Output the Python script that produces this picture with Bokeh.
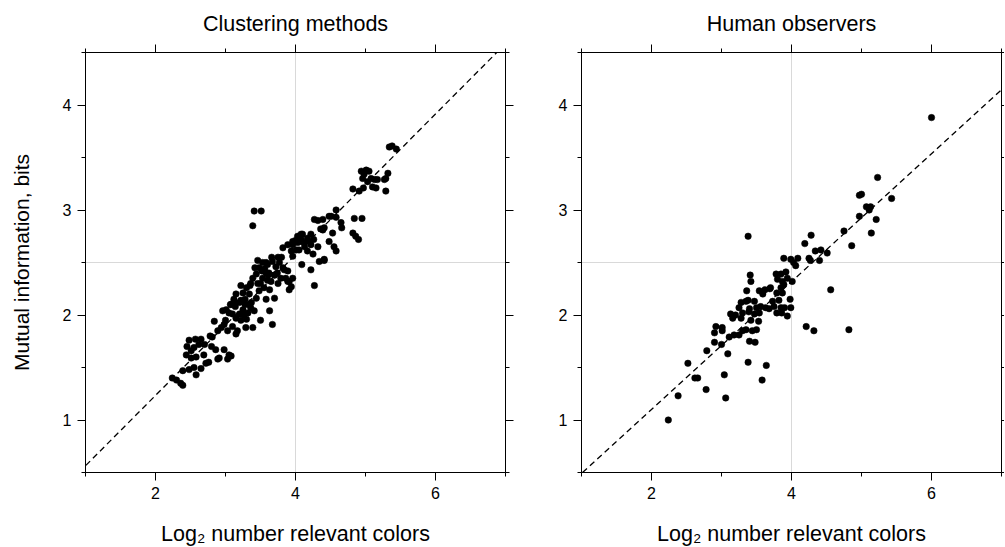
from bokeh.plotting import figure
from bokeh.models import Range1d, FixedTicker, LinearAxis, Span, Slope
from bokeh.layouts import row
from bokeh.embed import file_html
from bokeh.resources import INLINE

# ---------------- data ----------------
panel_titles = ["Clustering methods", "Human observers"]
x_label = "Log\u2082 number relevant colors"
y_label = "Mutual information, bits"
x_major_ticks = [2, 4, 6]
x_minor_ticks = [1, 3, 5, 7]
y_major_ticks = [1, 2, 3, 4]
y_minor_ticks = [0.5, 1.5, 2.5, 3.5, 4.5]
ref_x = 4
ref_y = 2.5

clustering_x = [
    2.24, 2.30, 2.39, 2.36,
    2.39, 2.48, 2.55, 2.58, 2.65, 2.72, 2.76, 2.89, 2.91, 3.03, 3.08, 3.05,
    2.51, 2.58, 2.51, 2.55, 2.48, 2.57, 2.65, 2.81, 2.86, 2.98, 2.89, 2.94,
    2.96, 3.01, 3.05, 3.10, 3.15, 3.20, 3.25, 3.32, 3.36, 3.41,
    2.98, 3.03, 3.10, 3.15, 3.17, 3.29, 3.39,
    3.63, 3.67,
    3.15, 3.25, 3.34, 3.44, 3.48, 3.55, 3.63, 3.65, 3.53, 3.44, 3.39,
    3.46, 3.53, 3.60, 3.67, 3.72, 3.77, 3.82, 3.89, 3.86, 3.91, 3.94, 3.91,
    3.82, 3.89, 3.96, 4.03, 4.08, 4.01, 3.96, 4.09,
    4.10, 4.17, 4.22, 4.08, 3.96, 4.03, 4.13, 4.22, 4.32, 3.94, 4.05, 4.17, 4.25,
    4.34, 4.41, 4.22, 4.27,
    3.84, 3.79, 3.89, 3.96,
    3.41, 3.51, 3.39,
    4.27, 4.32, 4.39, 4.48, 4.39,
    4.58, 4.51, 4.58, 4.65, 4.66, 4.53,
    4.84, 4.95, 4.82, 4.86, 4.90,
    4.48, 4.55, 4.58, 4.41,
    4.36, 4.41,
    4.94, 5.01, 5.05, 4.98, 4.96, 5.08, 5.03, 5.13, 5.17, 5.27, 5.32, 5.29, 5.10, 5.15, 4.82, 4.91, 5.29, 4.97,
    5.34, 5.44, 5.38,
    2.70, 2.78, 2.84, 3.00, 3.07, 3.12, 3.22, 3.28, 3.35, 3.46, 3.52, 3.58, 3.70, 3.75,
    3.22, 3.30, 3.37, 3.50, 3.58, 3.70, 3.74, 3.80, 3.56, 3.61,
    3.08, 3.12, 3.20, 3.28, 3.30, 3.36, 3.22, 3.14, 3.26, 3.33,
    3.48, 3.55, 3.62, 3.70, 3.58, 3.66, 3.75, 3.50, 3.42, 3.60,
    4.00, 4.06, 4.12, 4.19, 4.26, 2.44, 2.62, 2.69, 2.80, 2.45,
]
clustering_y = [
    1.40, 1.38, 1.33, 1.35,
    1.47, 1.48, 1.50, 1.43, 1.49, 1.54, 1.55, 1.58, 1.59, 1.58, 1.61, 1.62,
    1.59, 1.60, 1.66, 1.69, 1.76, 1.77, 1.77, 1.79, 1.67, 1.67, 1.85, 1.88,
    2.04, 2.05, 2.02, 2.01, 1.97, 2.01, 2.05, 2.02, 2.07, 2.04,
    1.91, 1.85, 1.89, 1.82, 1.85, 1.88, 1.88,
    2.04, 1.91,
    2.20, 2.21, 2.20, 2.16, 2.23, 2.26, 2.24, 2.32, 2.35, 2.39, 2.35,
    2.52, 2.50, 2.48, 2.51, 2.46, 2.50, 2.45, 2.42, 2.35, 2.32, 2.27, 2.24,
    2.64, 2.67, 2.70, 2.75, 2.77, 2.62, 2.56, 2.48,
    2.77, 2.73, 2.77, 2.72, 2.67, 2.69, 2.65, 2.67, 2.65, 2.61, 2.62, 2.61, 2.58,
    2.51, 2.52, 2.43, 2.28,
    2.43, 2.35, 2.32, 2.35,
    2.99, 2.99, 2.85,
    2.91, 2.90, 2.91, 2.94, 2.81,
    3.00, 2.94, 2.93, 2.88, 2.83, 2.78,
    2.92, 2.92, 2.78, 2.75, 2.72,
    2.70, 2.65, 2.61, 2.53,
    2.82, 2.83,
    3.37, 3.38, 3.37, 3.34, 3.30, 3.30, 3.27, 3.29, 3.29, 3.29, 3.35, 3.30, 3.22, 3.21, 3.20, 3.18, 3.18, 3.21,
    3.60, 3.58, 3.61,
    1.72, 1.80, 1.94, 1.95, 2.10, 2.12, 2.14, 2.10, 2.28, 2.30, 2.42, 2.40, 2.38, 2.30,
    1.95, 1.96, 2.12, 1.95, 2.15, 2.16, 2.40, 2.55, 2.44, 2.38,
    2.10, 2.15, 2.12, 2.15, 2.26, 2.30, 2.28, 2.08, 2.00, 2.10,
    2.45, 2.42, 2.40, 2.38, 2.50, 2.55, 2.55, 2.30, 2.45, 2.33,
    2.71, 2.70, 2.69, 2.70, 2.72, 1.62, 1.72, 1.62, 1.70, 1.70,
]

human_x = [
    2.24, 2.38, 2.52, 2.62, 2.66, 2.78, 2.79,
    3.04, 3.06, 3.09, 3.38, 3.58, 3.64,
    2.90, 3.00, 2.90, 2.92, 3.01, 3.01,
    3.11, 3.18, 3.25, 3.30, 3.35, 3.44, 3.50,
    3.13, 3.20, 3.16, 3.28, 3.25, 3.30, 3.39, 3.40, 3.47, 3.50, 3.54, 3.56, 3.42, 3.53,
    3.40, 3.48,
    3.28, 3.35, 3.38, 3.47, 3.36, 3.42, 3.41,
    3.38,
    3.54, 3.59, 3.62, 3.69, 3.79, 3.87,
    3.63, 3.68, 3.75, 3.85, 3.90, 3.99, 3.73, 3.82, 3.98,
    3.79, 3.86, 3.94,
    3.70, 3.85, 3.89,
    3.78, 3.85, 3.92, 3.80, 3.87, 3.94, 4.01,
    3.89, 3.99, 4.03, 4.06, 4.09,
    4.19, 4.28, 4.34, 4.42, 4.25, 4.27, 4.40, 4.51,
    4.56, 4.21, 4.32, 4.82,
    4.75, 4.86, 4.97, 4.97, 5.00, 5.07, 5.13, 5.11, 5.21, 5.14, 5.23, 5.43, 6.00,
]
human_y = [
    1.00, 1.23, 1.54, 1.40, 1.40, 1.29, 1.66,
    1.43, 1.21, 1.63, 1.55, 1.38, 1.52,
    1.74, 1.72, 1.83, 1.89, 1.88, 1.85,
    1.79, 1.81, 1.81, 1.85, 1.86, 1.85, 1.86,
    2.01, 2.00, 1.97, 1.97, 2.07, 2.02, 2.03, 2.06, 2.01, 2.07, 2.02, 2.08, 1.95, 1.94,
    1.75, 1.74,
    2.12, 2.13, 2.14, 2.13, 2.23, 2.32, 2.38,
    2.75,
    2.23, 2.20, 2.24, 2.25, 2.21, 2.21,
    2.07, 2.06, 2.08, 2.07, 2.07, 2.07, 2.13, 2.14, 2.15,
    2.02, 2.02, 1.99,
    2.26, 2.26, 2.29,
    2.39, 2.39, 2.41, 2.34, 2.32, 2.35, 2.32,
    2.54, 2.53, 2.50, 2.47, 2.54,
    2.68, 2.76, 2.61, 2.62, 2.54, 2.52, 2.52, 2.59,
    2.24, 1.89, 1.85, 1.86,
    2.80, 2.66, 2.94, 3.14, 3.15, 3.03, 3.03, 3.00, 2.91, 2.78, 3.31, 3.11, 3.88,
]

# dashed fit lines (gradient, intercept)
clustering_fit = (0.670, -0.106)
human_fit = (0.609, -0.118)

FONT = "Liberation Sans"


def style_axis(ax, ticks, minor, show_labels, tick_out=8, minor_out=4):
    ax.ticker = FixedTicker(ticks=ticks, minor_ticks=minor)
    ax.axis_line_color = "black"
    ax.axis_line_width = 1
    ax.major_tick_line_color = "black"
    ax.minor_tick_line_color = "black"
    ax.major_tick_in = 0
    ax.major_tick_out = tick_out
    ax.minor_tick_in = 0
    ax.minor_tick_out = minor_out
    if show_labels:
        ax.major_label_text_font = FONT
        ax.major_label_text_font_size = "16px"
        ax.major_label_text_color = "black"
        ax.major_label_standoff = 6
    else:
        ax.major_label_text_color = None
        ax.major_label_text_font_size = "1px"
        ax.major_label_standoff = 0


def make_panel(title, xs, ys, fit, border_left, border_right, show_ylabel, right_tick_out):
    p = figure(
        frame_width=420, frame_height=420,
        x_range=Range1d(1, 7), y_range=Range1d(0.5, 4.5),
        output_backend="svg", toolbar_location=None,
        min_border_left=border_left, min_border_right=border_right,
        min_border_top=52, min_border_bottom=75,
        background_fill_color="white", border_fill_color="white",
        outline_line_color="black",
    )
    p.title.text = title
    p.title.text_font = FONT
    p.title.text_font_size = "21.5px"
    p.title.text_font_style = "normal"
    p.title.text_color = "black"
    p.title.align = "center"
    p.title.standoff = 18
    p.grid.visible = False

    bx = p.xaxis[0]
    style_axis(bx, x_major_ticks, x_minor_ticks, True)
    bx.axis_label = x_label
    bx.axis_label_text_font = FONT
    bx.axis_label_text_font_size = "21.5px"
    bx.axis_label_text_font_style = "normal"
    bx.axis_label_text_color = "black"
    bx.axis_label_standoff = 20

    ly = p.yaxis[0]
    style_axis(ly, y_major_ticks, y_minor_ticks, True)
    ly.major_label_orientation = "horizontal"
    if show_ylabel:
        ly.axis_label = y_label
        ly.axis_label_text_font = FONT
        ly.axis_label_text_font_size = "21px"
        ly.axis_label_text_font_style = "normal"
        ly.axis_label_text_color = "black"
        ly.axis_label_standoff = 27

    tx = LinearAxis()
    style_axis(tx, x_major_ticks, x_minor_ticks, False)
    p.add_layout(tx, "above")
    ry = LinearAxis()
    style_axis(ry, y_major_ticks, y_minor_ticks, False,
               tick_out=right_tick_out, minor_out=min(4, right_tick_out))
    p.add_layout(ry, "right")

    p.add_layout(Span(location=ref_x, dimension="height", line_color="#d9d9d9",
                      line_width=1, level="underlay"))
    p.add_layout(Span(location=ref_y, dimension="width", line_color="#d9d9d9",
                      line_width=1, level="underlay"))

    p.scatter(xs, ys, size=6.5, fill_color="black", line_color="black", line_width=0.5)

    p.add_layout(Slope(gradient=fit[0], y_intercept=fit[1], line_color="black",
                       line_width=1.3, line_dash="6 4"))
    return p


p1 = make_panel(panel_titles[0], clustering_x, clustering_y, clustering_fit, 85, 36, True, 8)
p2 = make_panel(panel_titles[1], human_x, human_y, human_fit, 40, 3, False, 3)

layout = row(p1, p2)
open("out.html", "w").write(file_html(layout, INLINE))
